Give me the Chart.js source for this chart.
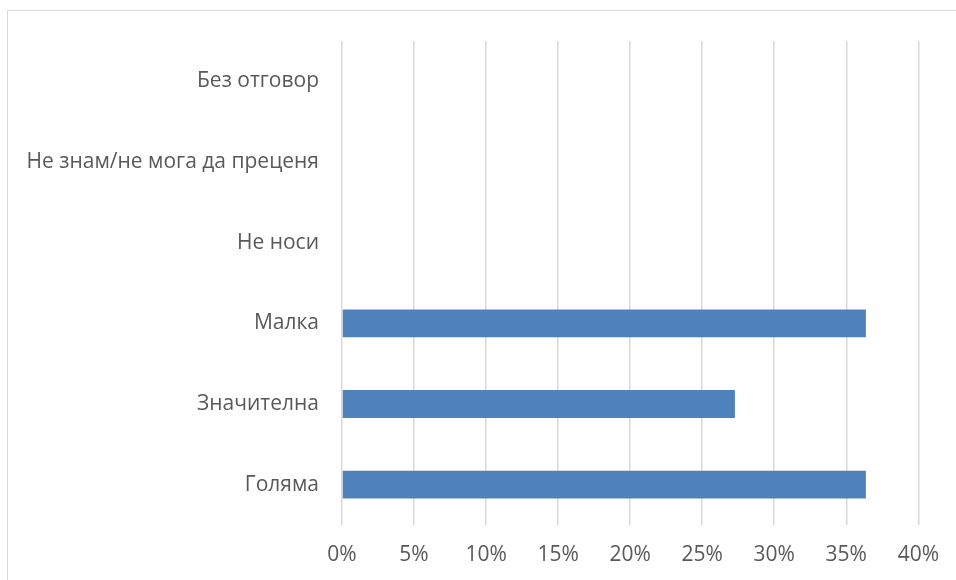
<!DOCTYPE html>
<html>
<head>
<meta charset="utf-8">
<script src="https://cdn.jsdelivr.net/npm/chart.js@4/dist/chart.umd.min.js"></script>
<style>
    html, body { margin: 0; padding: 0; background: #fff; }
    #wrap { position: relative; width: 956px; height: 580px; overflow: hidden; }
    #frame {
        position: absolute; left: 7px; top: 10px; width: 1000px; height: 1000px;
        border-top: 1.5px solid #d9d9d9; border-left: 1.5px solid #d9d9d9;
    }
    #chart { position: absolute; left: 0; top: 0; }
</style>
</head>
<body>
<div id="wrap">
    <div id="frame"></div>
    <canvas id="chart" width="956" height="580"></canvas>
</div>
<script>
const categories = ['Без отговор', 'Не знам/не мога да преценя', 'Не носи', 'Малка', 'Значителна', 'Голяма'];
const shares = [0, 0, 0, 36.36, 27.27, 36.36];
const xTicks = [0, 5, 10, 15, 20, 25, 30, 35, 40];

const color_bar = '#4F81BD';
const color_grid = '#d9d9d9';
const color_text = '#595959';
const font = { family: '"Open Sans", "Noto Sans", sans-serif', size: 21 };

const ctx = document.getElementById('chart').getContext('2d');
new Chart(ctx, {
    type: 'bar',
    data: {
        labels: categories,
        datasets: [
            {
                data: shares,
                backgroundColor: color_bar,
                borderWidth: 0,
                barPercentage: 0.345,
                categoryPercentage: 1,
            },
        ],
    },
    options: {
        indexAxis: 'y',
        responsive: false,
        animation: false,
        layout: { padding: { top: 41, right: 37, left: 0, bottom: 0 } },
        plugins: { legend: { display: false }, tooltip: { enabled: false } },
        scales: {
            x: {
                min: 0,
                max: 40,
                afterBuildTicks: (scale) => {
                    scale.ticks = xTicks.map((v) => ({ value: v }));
                },
                afterFit: (scale) => { scale.height = 55; },
                grid: { color: color_grid, lineWidth: 1.5, drawTicks: false },
                border: { display: false },
                ticks: {
                    color: color_text,
                    font,
                    padding: 17,
                    callback: (v) => `${v}%`,
                },
            },
            y: {
                afterFit: (scale) => { scale.width = 342; },
                grid: { display: false },
                border: { display: false },
                ticks: { color: color_text, font, padding: 15 },
            },
        },
    },
});
</script>
</body>
</html>
